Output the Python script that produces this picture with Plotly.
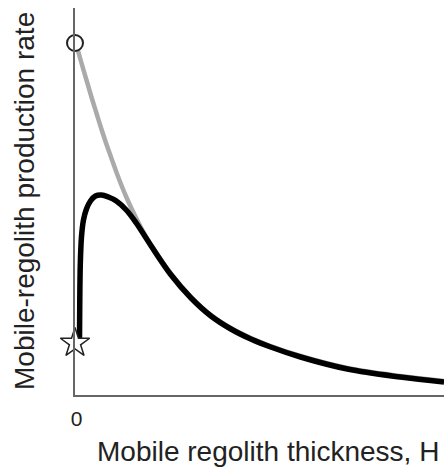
import plotly.graph_objects as go

# Gray curve: bedrock-only (exponential-like) production rate vs thickness H
gray_H = [0, 5, 10, 15, 20, 25, 30, 35, 40, 45, 50, 55, 65, 75, 95, 115, 135, 155, 175, 195, 225, 272, 325, 369]
gray_rate = [350, 332, 315, 298, 282, 266, 251, 237, 223, 210, 198, 187, 167, 150, 121, 98, 80, 67, 57, 49, 39, 27, 19, 14]

# Black curve: humped production rate vs thickness H
black_H = [3, 3.3, 3.8, 5, 7, 10, 14, 19, 25, 32, 40, 50, 60, 75, 95, 115, 135, 155, 175, 195, 225, 272, 325, 369]
black_rate = [52, 95, 130, 158, 175, 186, 194, 199, 200, 198, 194, 185, 172, 149, 120, 97, 79, 66, 56, 48, 38, 26, 18, 13]

# End-point markers at H = 0
circle_H = [-1.5]
circle_rate = [352]
star_H = [-1.5]
star_rate = [52]

x_tick_vals = [0]
x_tick_text = ["0"]

fig = go.Figure()
fig.add_trace(go.Scatter(x=gray_H, y=gray_rate, mode="lines", line=dict(color="#aaaaaa", width=4.5, shape="spline"),
                         hoverinfo="skip", cliponaxis=False))
fig.add_trace(go.Scatter(x=black_H, y=black_rate, mode="lines", line=dict(color="#000000", width=5.5, shape="spline"),
                         hoverinfo="skip", cliponaxis=False))
fig.add_trace(go.Scatter(x=circle_H, y=circle_rate, mode="markers",
                         marker=dict(symbol="circle", size=16, color="white", line=dict(color="#222222", width=2)),
                         cliponaxis=False, hoverinfo="skip"))
fig.add_trace(go.Scatter(x=star_H, y=star_rate, mode="markers",
                         marker=dict(symbol="star", size=22, color="white", line=dict(color="#222222", width=1.5)),
                         cliponaxis=False, hoverinfo="skip"))

font_family = "Liberation Sans, Arial, sans-serif"
fig.update_layout(
    width=444, height=467,
    margin=dict(l=75, r=0, t=8, b=72, autoexpand=False),
    paper_bgcolor="white", plot_bgcolor="white",
    showlegend=False,
    font=dict(family=font_family, color="#222222"),
    xaxis=dict(range=[-1.5, 369], showgrid=False, zeroline=False, showline=True, linecolor="#666666", linewidth=2,
               tickvals=x_tick_vals, ticktext=x_tick_text, ticks="", tickfont=dict(size=21, color="#222222"),
               ticklabelstandoff=4, automargin=False),
    yaxis=dict(range=[0, 387], showgrid=False, zeroline=False, showline=True, linecolor="#666666", linewidth=2,
               showticklabels=False, ticks="", automargin=False),
    annotations=[
        dict(text="Mobile regolith thickness, H", xref="paper", yref="paper", x=0.5, y=0, yshift=-74, xshift=8,
             xanchor="center", yanchor="bottom", showarrow=False, font=dict(size=28, color="#222222")),
        dict(text="Mobile-regolith production rate", xref="paper", yref="paper", x=0, y=0.5, xshift=-68,
             xanchor="left", yanchor="middle", textangle=-90, showarrow=False, font=dict(size=28, color="#222222")),
    ],
)

fig.write_html("out.html", config={"displayModeBar": False},
               post_script="document.body.style.margin='0';document.body.style.overflow='hidden';")
